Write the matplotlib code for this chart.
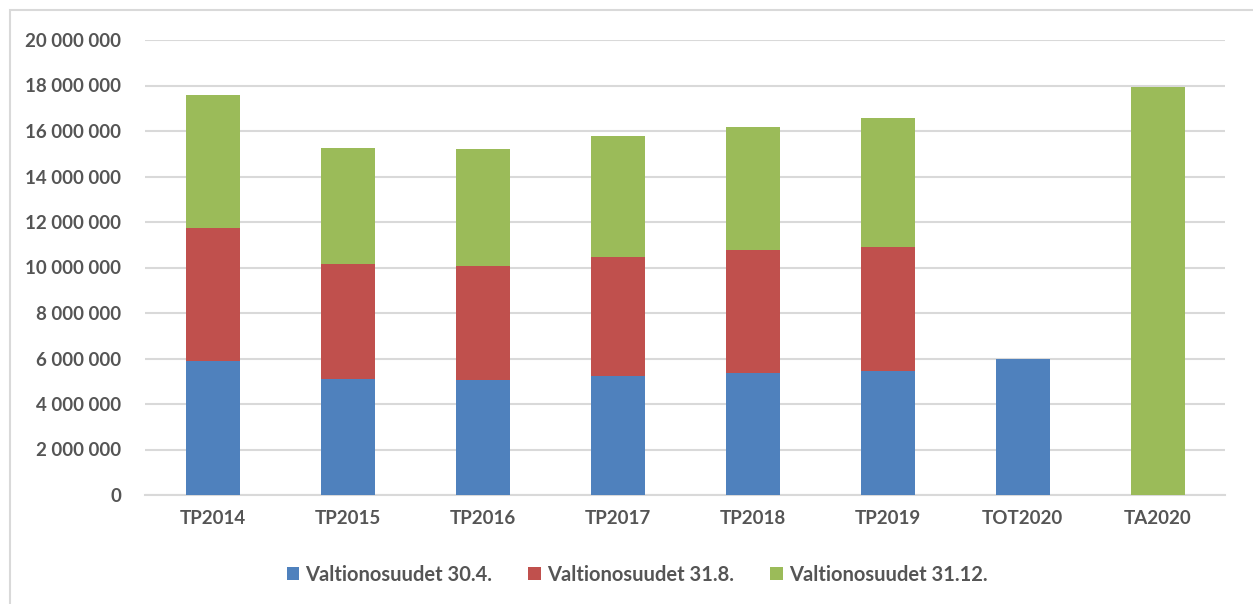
import matplotlib
matplotlib.use('Agg')
import matplotlib.pyplot as plt
from matplotlib.patches import Rectangle
from matplotlib.ticker import FuncFormatter
import numpy as np

# data
categories = ['TP2014', 'TP2015', 'TP2016', 'TP2017', 'TP2018', 'TP2019', 'TOT2020', 'TA2020']
vos_30_4 = [5890000, 5100000, 5050000, 5230000, 5360000, 5450000, 6000000, 0]
vos_31_8 = [5850000, 5050000, 5020000, 5230000, 5410000, 5450000, 0, 0]
vos_31_12 = [5840000, 5100000, 5140000, 5320000, 5410000, 5670000, 0, 17930000]
series_labels = ['Valtionosuudet 30.4.', 'Valtionosuudet 31.8.', 'Valtionosuudet 31.12.']
colors = ['#4F81BD', '#C0504D', '#9BBB59']

text_color = '#555555'
grid_color = '#D9D9D9'
plt.rcParams['font.family'] = ['Lato', 'DejaVu Sans']

W, H = 1253, 604
fig = plt.figure(figsize=(W / 100, H / 100), dpi=100)
ax = fig.add_axes([145 / W, (H - 495) / H, (1225 - 145) / W, (495 - 40) / H])

# chart frame (only left and top edge visible in the reference)
fig.patches.append(Rectangle((10 / W, -0.1), 1.2, (H - 10) / H + 0.1, transform=fig.transFigure,
                             fill=False, edgecolor=grid_color, linewidth=1.5, zorder=0))

x = np.arange(len(categories))
bottom = np.zeros(len(categories))
for vals, lab, col in zip([vos_30_4, vos_31_8, vos_31_12], series_labels, colors):
    vals = np.array(vals, dtype=float)
    ax.bar(x, vals, width=0.4, bottom=bottom, color=col, label=lab, zorder=3)
    bottom += vals

ax.set_xlim(-0.5, len(categories) - 0.5)
ax.set_ylim(0, 20000000)
ax.set_yticks(np.arange(0, 20000001, 2000000))
ax.yaxis.set_major_formatter(FuncFormatter(lambda v, p: f'{int(v):,}'.replace(',', ' ')))
ax.set_xticks(x)
ax.set_xticklabels(categories)

ax.grid(axis='y', color=grid_color, linewidth=1.5, zorder=0)
for s in ['top', 'right', 'left']:
    ax.spines[s].set_visible(False)
ax.spines['bottom'].set_color(grid_color)
ax.spines['bottom'].set_linewidth(1.5)
ax.tick_params(axis='both', length=0, colors=text_color, labelsize=13.5)
ax.tick_params(axis='y', pad=17)
ax.tick_params(axis='x', pad=11)
for t in ax.get_xticklabels() + ax.get_yticklabels():
    t.set_fontweight('bold')

leg = fig.legend(loc='center', bbox_to_anchor=(637 / W, (H - 575) / H), ncol=3, frameon=False,
                 handlelength=0.62, handleheight=0.62, handletextpad=0.3, columnspacing=1.8,
                 prop={'size': 14.5, 'weight': 'bold'})
for t in leg.get_texts():
    t.set_color(text_color)

fig.savefig('out.png', dpi=100)
